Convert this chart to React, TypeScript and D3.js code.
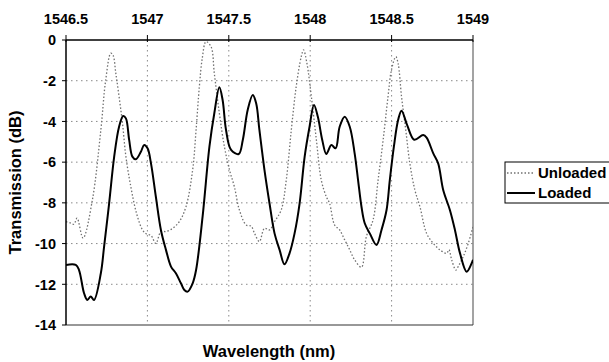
import React from "react";
import * as d3 from "d3";

// Wavelength (nm) and transmission (dB) samples for each trace
const loadedWl = [
  1546.5, 1546.56, 1546.58, 1546.611, 1546.631, 1546.652, 1546.672, 1546.714, 1546.734, 1546.765,
  1546.796, 1546.826, 1546.851, 1546.868, 1546.888, 1546.908, 1546.929, 1546.96, 1546.98, 1547.001,
  1547.022, 1547.052, 1547.083, 1547.114, 1547.145, 1547.175, 1547.206, 1547.227, 1547.247, 1547.278,
  1547.299, 1547.339, 1547.381, 1547.411, 1547.442, 1547.462, 1547.483, 1547.514, 1547.561, 1547.586,
  1547.616, 1547.647, 1547.668, 1547.688, 1547.719, 1547.75, 1547.781, 1547.812, 1547.842, 1547.873,
  1547.904, 1547.935, 1547.966, 1547.996, 1548.023, 1548.047, 1548.074, 1548.099, 1548.13, 1548.156,
  1548.181, 1548.212, 1548.243, 1548.273, 1548.294, 1548.315, 1548.335, 1548.366, 1548.407, 1548.438,
  1548.469, 1548.489, 1548.514, 1548.54, 1548.561, 1548.595, 1548.639, 1548.694, 1548.715, 1548.756,
  1548.786, 1548.817, 1548.858, 1548.889, 1548.92, 1548.961, 1548.992, 1549,
];
const loadedDb = [
  -11.05, -11.05, -11.3, -12.44, -12.77, -12.6, -12.77, -11.46, -10.15, -8.02,
  -5.73, -4.26, -3.73, -3.85, -4.91, -5.73, -5.86, -5.49, -5.16, -5.32,
  -6.06, -7.7, -9.33, -10.31, -11.13, -11.46, -11.95, -12.28, -12.36, -11.95,
  -11.3, -8.68, -5.24, -3.6, -2.32, -2.95, -4.42, -5.4, -5.6, -4.91,
  -3.44, -2.7, -3.11, -4.42, -6.38, -8.02, -9.5, -10.31, -11.02, -10.48,
  -9.5, -8.02, -5.73, -4.26, -3.19, -3.77, -4.91, -5.6, -5.16, -5.32,
  -4.26, -3.77, -4.26, -5.57, -6.88, -8.19, -9.0, -9.5, -10.07, -9.33,
  -8.35, -6.88, -5.24, -3.93, -3.47, -4.17, -4.9, -4.67, -4.8, -5.57,
  -6.06, -7.37, -8.35, -9.33, -10.47, -11.38, -10.96, -10.8,
];

const unloadedWl = [
  1546.5, 1546.531, 1546.549, 1546.568, 1546.605, 1546.662, 1546.714, 1546.744, 1546.775, 1546.789,
  1546.806, 1546.826, 1546.847, 1546.868, 1546.898, 1546.933, 1546.97, 1546.994, 1547.022, 1547.052,
  1547.083, 1547.114, 1547.155, 1547.196, 1547.237, 1547.278, 1547.299, 1547.319, 1547.337, 1547.36,
  1547.391, 1547.411, 1547.442, 1547.473, 1547.504, 1547.534, 1547.565, 1547.607, 1547.637, 1547.658,
  1547.688, 1547.719, 1547.75, 1547.781, 1547.822, 1547.853, 1547.884, 1547.914, 1547.945, 1547.959,
  1547.98, 1548.007, 1548.038, 1548.068, 1548.099, 1548.119, 1548.15, 1548.181, 1548.212, 1548.243,
  1548.273, 1548.315, 1548.345, 1548.386, 1548.417, 1548.448, 1548.478, 1548.499, 1548.526, 1548.54,
  1548.561, 1548.587, 1548.612, 1548.643, 1548.674, 1548.715, 1548.756, 1548.797, 1548.838, 1548.852,
  1548.869, 1548.895, 1548.911, 1548.94, 1548.971, 1549,
];
const unloadedDb = [
  -8.92, -9.0, -9.05, -8.75, -9.73, -7.86, -4.42, -1.96, -0.65, -0.75,
  -1.64, -2.78, -4.09, -5.73, -7.2, -8.51, -9.33, -9.53, -9.6, -9.99,
  -9.41, -9.41, -9.25, -8.92, -8.19, -6.38, -4.42, -2.3, -0.9, -0.08,
  -0.33, -1.64, -3.6, -5.24, -6.38, -7.2, -8.35, -9.09, -9.14, -9.5,
  -9.9, -9.25, -9.33, -8.92, -8.35, -6.88, -4.42, -2.29, -0.82, -0.49,
  -1.15, -2.78, -4.91, -6.88, -7.7, -8.02, -9.09, -9.33, -9.82, -10.31,
  -10.8, -11.16, -9.66, -8.84, -6.88, -4.91, -2.78, -1.47, -0.82, -1.15,
  -2.78, -4.42, -6.06, -7.37, -8.19, -9.5, -9.99, -10.31, -10.48, -10.3,
  -10.8, -11.3, -11.1, -10.64, -9.99, -9.17,
];

const xTicks = [1546.5, 1547, 1547.5, 1548, 1548.5, 1549];
const xTickLabels = ["1546.5", "1547", "1547.5", "1548", "1548.5", "1549"];
const yTicks = [0, -2, -4, -6, -8, -10, -12, -14];
const seriesNames = ["Unloaded", "Loaded"];

const W = 609;
const H = 362;
const left = 66;
const right = 473;
const top = 40;
const bottom = 325;
const font = "'Liberation Sans', Arial, sans-serif";

export default function App() {
  const x = d3.scaleLinear().domain([1546.5, 1549]).range([left, right]);
  const y = d3.scaleLinear().domain([-14, 0]).range([bottom, top]);

  const line = d3
    .line<[number, number]>()
    .x((d) => x(d[0]))
    .y((d) => y(d[1]))
    .curve(d3.curveCatmullRom.alpha(0.5));

  const loaded = loadedWl.map((w, i) => [w, loadedDb[i]] as [number, number]);
  const unloaded = unloadedWl.map((w, i) => [w, unloadedDb[i]] as [number, number]);

  return (
    <svg
      width={W}
      height={H}
      style={{ position: "absolute", left: 0, top: 0, background: "#fff" }}
      fontFamily={font}
    >
      <rect width={W} height={H} fill="#fff" />
      <defs>
        <clipPath id="plot">
          <rect x={left} y={top - 1} width={right - left} height={bottom - top + 2} />
        </clipPath>
      </defs>

      {/* grid */}
      {yTicks
        .filter((t) => t !== 0 && t !== -14)
        .map((t) => (
          <line
            key={"gy" + t}
            x1={left}
            x2={right}
            y1={y(t)}
            y2={y(t)}
            stroke="#8a8a8a"
            strokeWidth={1}
            strokeDasharray="1.5,3.5"
          />
        ))}
      {xTicks
        .filter((t) => t !== 1546.5 && t !== 1549)
        .map((t) => (
          <line
            key={"gx" + t}
            x1={x(t)}
            x2={x(t)}
            y1={top}
            y2={bottom}
            stroke="#8a8a8a"
            strokeWidth={1}
            strokeDasharray="1.5,3.5"
          />
        ))}

      {/* frame */}
      <line x1={right} x2={right} y1={top} y2={bottom} stroke="#666" strokeWidth={1.2} />
      <line x1={left} x2={right} y1={bottom} y2={bottom} stroke="#333" strokeWidth={1.2} />

      {/* traces */}
      <g clipPath="url(#plot)">
        <path
          d={line(unloaded) || ""}
          fill="none"
          stroke="#707070"
          strokeWidth={1.3}
          strokeDasharray="1.5,2"
        />
        <path d={line(loaded) || ""} fill="none" stroke="#000" strokeWidth={2} strokeLinejoin="round" />
      </g>

      {/* top axis */}
      <line x1={left} x2={right} y1={top} y2={top} stroke="#000" strokeWidth={1.5} />
      {xTicks.map((t, i) => (
        <g key={"xt" + t}>
          <line x1={x(t)} x2={x(t)} y1={top - 5} y2={top + 2} stroke="#000" strokeWidth={1} />
          <text
            x={x(t)}
            y={24}
            textAnchor="middle"
            fontSize={14.5}
            fontWeight="bold"
            fill="#000"
          >
            {xTickLabels[i]}
          </text>
        </g>
      ))}

      {/* left axis */}
      <line x1={left} x2={left} y1={top} y2={bottom} stroke="#000" strokeWidth={1.5} />
      {yTicks.map((t) => (
        <g key={"yt" + t}>
          <line x1={left - 4} x2={left} y1={y(t)} y2={y(t)} stroke="#000" strokeWidth={1} />
          <text
            x={56}
            y={y(t)}
            dy="0.36em"
            textAnchor="end"
            fontSize={14.5}
            fontWeight="bold"
            fill="#000"
          >
            {t}
          </text>
        </g>
      ))}

      {/* axis titles */}
      <text
        transform={`translate(21,${(top + bottom) / 2}) rotate(-90)`}
        textAnchor="middle"
        fontSize={16.5}
        fontWeight="bold"
        fill="#000"
      >
        Transmission (dB)
      </text>
      <text x={269} y={357} textAnchor="middle" fontSize={16.5} fontWeight="bold" fill="#000">
        Wavelength (nm)
      </text>

      {/* legend */}
      <rect x={505} y={162} width={110} height={41} fill="#fff" stroke="#000" strokeWidth={1} />
      <line
        x1={507}
        x2={535}
        y1={173}
        y2={173}
        stroke="#707070"
        strokeWidth={1.3}
        strokeDasharray="1.5,2"
      />
      <text x={538} y={173} dy="0.36em" fontSize={15} fontWeight="bold" fill="#000">
        {seriesNames[0]}
      </text>
      <line x1={507} x2={535} y1={193} y2={193} stroke="#000" strokeWidth={2} />
      <text x={538} y={193} dy="0.36em" fontSize={15} fontWeight="bold" fill="#000">
        {seriesNames[1]}
      </text>
    </svg>
  );
}
